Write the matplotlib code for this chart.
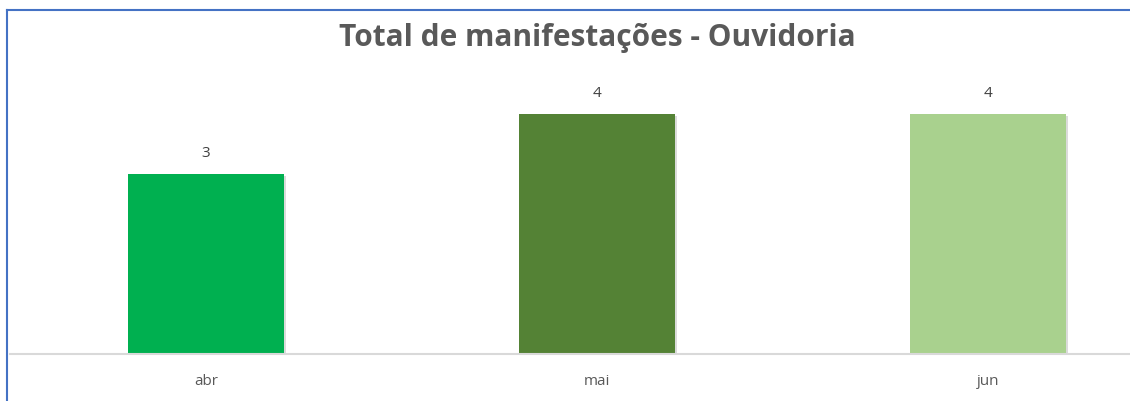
import matplotlib.pyplot as plt
import matplotlib.patheffects as pe
from matplotlib.lines import Line2D

months = ["abr", "mai", "jun"]
totals = [3, 4, 4]
bar_colors = ["#00B050", "#548235", "#A9D18E"]
title = "Total de manifestações - Ouvidoria"

plt.rcParams["font.family"] = ["Open Sans", "DejaVu Sans"]

fig = plt.figure(figsize=(11.30, 4.01), dpi=100)
ax = fig.add_axes([10 / 1130, (401 - 353.5) / 401, 1120 / 1130, 300 / 401])

x = range(len(months))
bars = ax.bar(x, totals, width=0.4, color=bar_colors, zorder=2)
for b in bars:
    b.set_path_effects([pe.SimplePatchShadow(offset=(1.5, -1.5), shadow_rgbFace="#999999", alpha=0.35), pe.Normal()])

for xi, v in zip(x, totals):
    ax.annotate(str(v), (xi, v), xytext=(0, 9), textcoords="offset points",
                ha="center", va="bottom", fontsize=11, color="#404040")

ax.set_xlim(-0.501, 2.363)
ax.set_ylim(0, 5)
ax.set_xticks(list(x))
ax.set_xticklabels(months, fontsize=11, color="#595959")
ax.tick_params(axis="x", length=0, pad=15)
ax.set_yticks([])
for s in ["top", "right", "left"]:
    ax.spines[s].set_visible(False)
ax.spines["bottom"].set_color("#D9D9D9")
ax.spines["bottom"].set_linewidth(1.5)

fig.text(597 / 1130, 1 - 38 / 401, title, ha="center", va="center",
         fontsize=21.5, fontweight="bold", color="#595959")

# outer chart border (blue, cropped on right and bottom)
fig.add_artist(Line2D([7 / 1130, 1], [1 - 10 / 401, 1 - 10 / 401], color="#4472C4", lw=1.5))
fig.add_artist(Line2D([7 / 1130, 7 / 1130], [0, 1 - 10 / 401], color="#4472C4", lw=1.5))

fig.savefig("out.png", dpi=100)
